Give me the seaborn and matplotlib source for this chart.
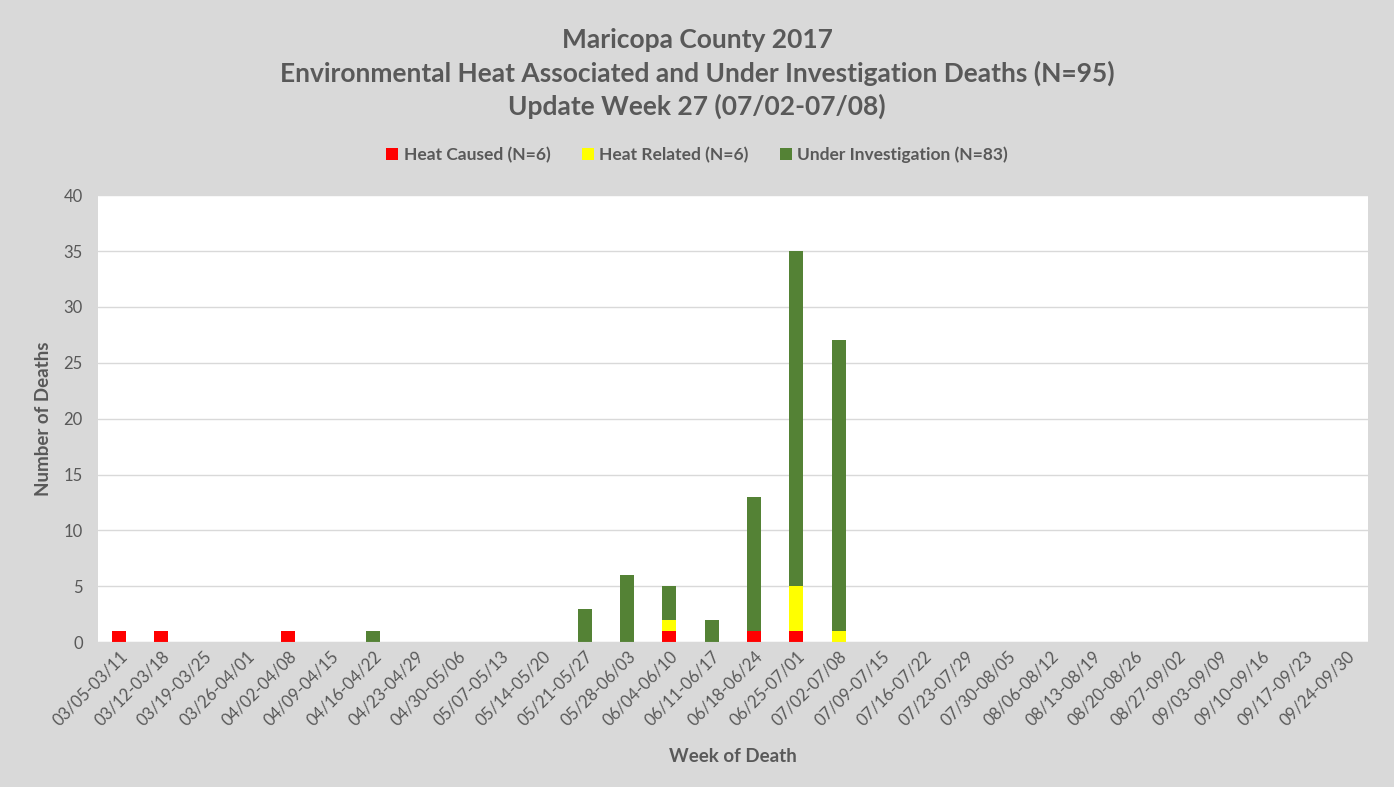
import pandas as pd
import numpy as np
import seaborn as sns
import matplotlib.pyplot as plt

weeks = ["03/05-03/11", "03/12-03/18", "03/19-03/25", "03/26-04/01", "04/02-04/08",
         "04/09-04/15", "04/16-04/22", "04/23-04/29", "04/30-05/06", "05/07-05/13",
         "05/14-05/20", "05/21-05/27", "05/28-06/03", "06/04-06/10", "06/11-06/17",
         "06/18-06/24", "06/25-07/01", "07/02-07/08", "07/09-07/15", "07/16-07/22",
         "07/23-07/29", "07/30-08/05", "08/06-08/12", "08/13-08/19", "08/20-08/26",
         "08/27-09/02", "09/03-09/09", "09/10-09/16", "09/17-09/23", "09/24-09/30"]
heat_caused = [1, 1, 0, 0, 1, 0, 0, 0, 0, 0, 0, 0, 0, 1, 0, 1, 1, 0,
               0, 0, 0, 0, 0, 0, 0, 0, 0, 0, 0, 0]
heat_related = [0, 0, 0, 0, 0, 0, 0, 0, 0, 0, 0, 0, 0, 1, 0, 0, 4, 1,
                0, 0, 0, 0, 0, 0, 0, 0, 0, 0, 0, 0]
under_invest = [0, 0, 0, 0, 0, 0, 1, 0, 0, 0, 0, 3, 6, 3, 2, 12, 30, 26,
                0, 0, 0, 0, 0, 0, 0, 0, 0, 0, 0, 0]

df = pd.DataFrame({"Week": weeks, "Caused": heat_caused,
                   "Related": heat_related, "Invest": under_invest})
df["b2"] = df["Caused"] + df["Related"]

sns.set_style("white")
plt.rcParams['font.family'] = ['Lato', 'DejaVu Sans']
grey = "#595959"

fig = plt.figure(figsize=(13.94, 7.87), dpi=100, facecolor="#d9d9d9")
ax = fig.add_axes([0.0703, 0.184, 0.9107, 0.568])
ax.set_facecolor("white")

w = 0.33
sns.barplot(df, x="Week", y="Caused", color="#ff0000", width=w, ax=ax,
            saturation=1, linewidth=0, label="Heat Caused (N=6)")
sns.barplot(df, x="Week", y="Related", color="#ffff00", width=w, ax=ax,
            saturation=1, linewidth=0, bottom=df["Caused"], label="Heat Related (N=6)")
sns.barplot(df, x="Week", y="Invest", color="#548235", width=w, ax=ax,
            saturation=1, linewidth=0, bottom=df["b2"], label="Under Investigation (N=83)")
if ax.get_legend() is not None:
    ax.get_legend().remove()

ax.set_ylim(0, 40)
ax.set_yticks(range(0, 41, 5))
ax.set_xlim(-0.5, len(weeks) - 0.5)
ax.yaxis.grid(True, color="#d9d9d9", linewidth=1)
ax.set_axisbelow(True)
for s in ["top", "right", "left"]:
    ax.spines[s].set_visible(False)
ax.spines["bottom"].set_color("#d9d9d9")
ax.tick_params(axis="both", length=0, colors=grey, labelsize=12)
ax.tick_params(axis="y", pad=11)
ax.tick_params(axis="x", pad=4)
plt.setp(ax.get_xticklabels(), rotation=45, ha="right", rotation_mode="anchor")

ax.set_xlabel("Week of Death", color=grey, fontsize=13.5, fontweight="bold", labelpad=14)
ax.set_ylabel("Number of Deaths", color=grey, fontsize=13.5, fontweight="bold", labelpad=8)

title_lines = ["Maricopa County 2017",
               "Environmental Heat Associated and Under Investigation Deaths (N=95)",
               "Update Week 27 (07/02-07/08)"]
for i, line in enumerate(title_lines):
    fig.text(0.5, 1 - (40 + 33 * i) / 787, line, ha="center", va="center",
             fontsize=19, fontweight="bold", color=grey)

handles, labels = ax.get_legend_handles_labels()
leg = fig.legend(handles, labels, loc="center", bbox_to_anchor=(0.5, 0.803), ncol=3,
                 frameon=False, fontsize=12.5, handlelength=0.7, handleheight=0.7,
                 columnspacing=1.8, handletextpad=0.3)
for t in leg.get_texts():
    t.set_color(grey)
    t.set_fontweight("bold")

fig.savefig("out.png", dpi=100, facecolor=fig.get_facecolor())
